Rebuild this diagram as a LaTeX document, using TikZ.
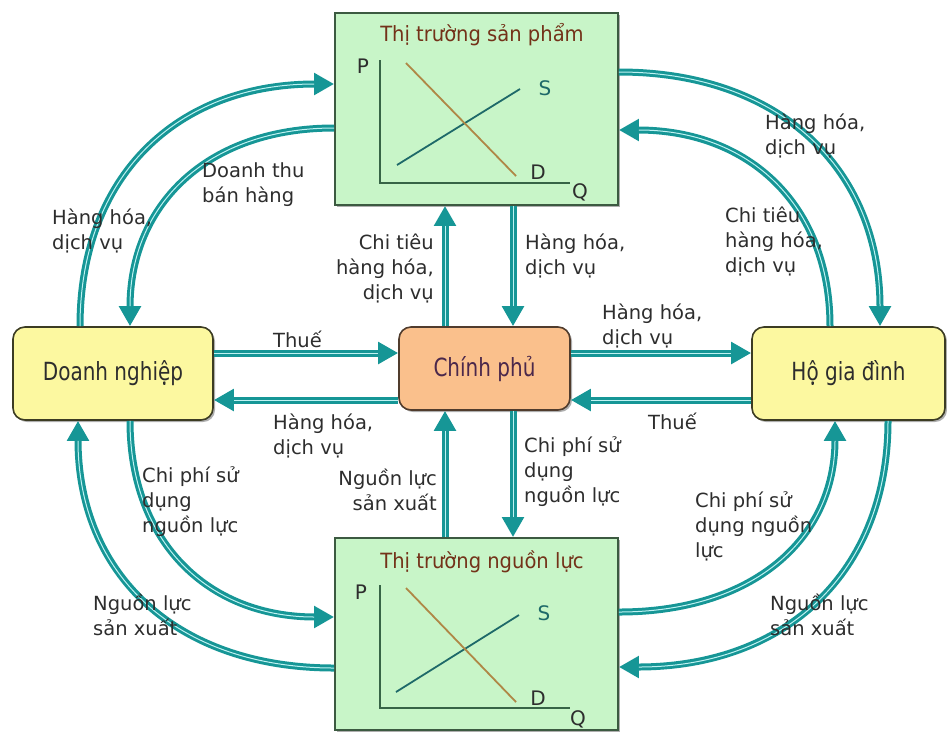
\documentclass[tikz,border=0pt]{standalone}
\usepackage{fontspec}
\setmainfont{DejaVu Sans}
\newfontfamily\boxfont[FakeStretch=0.8]{DejaVu Sans}
\newfontfamily\titlefont[FakeStretch=0.93]{DejaVu Sans}
\usetikzlibrary{arrows.meta,calc,shadows}

\definecolor{flowc}{RGB}{22,150,150}
\definecolor{flowl}{RGB}{190,242,242}
\definecolor{mktfill}{RGB}{200,245,200}
\definecolor{mktdraw}{RGB}{60,90,65}
\definecolor{firmfill}{RGB}{252,248,160}
\definecolor{firmdraw}{RGB}{60,60,35}
\definecolor{govfill}{RGB}{250,192,140}
\definecolor{govdraw}{RGB}{80,60,45}
\definecolor{govtext}{RGB}{75,40,75}
\definecolor{titlec}{RGB}{115,50,25}
\definecolor{axisc}{RGB}{55,100,70}
\definecolor{supc}{RGB}{30,105,105}
\definecolor{demc}{RGB}{175,135,70}
\definecolor{lblc}{RGB}{45,45,45}

\tikzset{
  boxshadow/.style={drop shadow={shadow xshift=2pt, shadow yshift=-2pt, opacity=0.45, fill=black!70}},
  market/.style={draw=mktdraw, line width=1.8pt, fill=mktfill, inner sep=0pt, boxshadow},
  agent/.style={draw=firmdraw, line width=1.6pt, fill=firmfill, rounded corners=12pt, boxshadow,
    inner sep=0pt, font=\boxfont\fontsize{25}{28}\selectfont, text=lblc},
  govbox/.style={draw=govdraw, line width=1.6pt, fill=govfill, rounded corners=12pt, boxshadow,
    inner sep=0pt, font=\boxfont\fontsize{25}{28}\selectfont, text=govtext},
  mkttitle/.style={font=\titlefont\fontsize{21}{24}\selectfont, text=titlec, inner sep=0pt},
  axislbl/.style={font=\fontsize{20}{22}\selectfont, text=lblc, inner sep=0pt},
  lbl/.style={font=\fontsize{19.5}{25}\selectfont, text=lblc, inner sep=0pt, align=left, anchor=base west},
  lblr/.style={font=\fontsize{19.5}{25}\selectfont, text=lblc, inner sep=0pt, align=right, anchor=base east},
  flow/.style={draw=flowc, line width=7pt, -{Triangle[length=20pt,width=21pt]},
    postaction={draw=flowl, line width=1pt, -, shorten >=20pt}},
  axisline/.style={draw=axisc, line width=1.8pt},
}

\begin{document}
\begin{tikzpicture}[x=1pt,y=-1pt]
\useasboundingbox (0,0) rectangle (947,732);

% ---- markets ----
\node[market, minimum width=283pt, minimum height=192pt] (tp) at (476.5,109) {};
\node[market, minimum width=283pt, minimum height=192pt] (bt) at (476.5,634) {};

% ---- agents ----
\node[agent, minimum width=200pt, minimum height=93pt] (dn) at (113,373.5) {Doanh nghiệp};
\node[govbox, minimum width=171pt, minimum height=83pt] (cp) at (484.5,368.5) {Chính phủ};
\node[agent, minimum width=193pt, minimum height=93pt] (hg) at (848.5,373.5) {Hộ gia đình};

% ---- product market chart ----
\node[mkttitle] (tpt) at (482,35) {Thị trường sản phẩm};
\draw[axisline] (380,60) -- (380,183) -- (570,183);
\draw[draw=supc, line width=1.8pt] (397,165) -- (520,89);
\draw[draw=demc, line width=1.8pt] (406,63) -- (516,176);
\node[axislbl] (tpP) at (363,66) {P};
\node[axislbl, text=supc] (tpS) at (545,88) {S};
\node[axislbl] (tpD) at (538,172) {D};
\node[axislbl] (tpQ) at (580,192) {Q};

% ---- resource market chart ----
\node[mkttitle] (btt) at (482,562) {Thị trường nguồn lực};
\draw[axisline] (380,585) -- (380,708) -- (570,708);
\draw[draw=supc, line width=1.8pt] (396,692) -- (519,615);
\draw[draw=demc, line width=1.8pt] (406,588) -- (516,702);
\node[axislbl] (btP) at (361,592) {P};
\node[axislbl, text=supc] (btS) at (544,613) {S};
\node[axislbl] (btD) at (538,698) {D};
\node[axislbl] (btQ) at (578,719) {Q};

% ---- straight flows around the government ----
\coordinate (rA) at (0,353);
\coordinate (rB) at (0,400);
\coordinate (cA) at (445,0);
\coordinate (cB) at (513,0);
\draw[flow] (dn.east |- rA) -- (cp.west |- rA);
\draw[flow] (cp.west |- rB) -- (dn.east |- rB);
\draw[flow] (cp.east |- rA) -- (hg.west |- rA);
\draw[flow] (hg.west |- rB) -- (cp.east |- rB);
\draw[flow] (cp.north -| cA) -- (tp.south -| cA);
\draw[flow] (tp.south -| cB) -- (cp.north -| cB);
\draw[flow] (bt.north -| cA) -- (cp.south -| cA);
\draw[flow] (cp.south -| cB) -- (bt.north -| cB);

% ---- curved flows ----
\draw[flow] ([xshift=-33pt]dn.north) .. controls (80,176) and (177,84) .. ([yshift=25pt]tp.west);
\draw[flow] ([yshift=-19pt]tp.west) .. controls (208,128) and (130,204) .. ([xshift=17pt]dn.north);
\draw[flow] ([yshift=37pt]tp.east) .. controls (780,72) and (880,169) .. ([xshift=31.5pt]hg.north);
\draw[flow] ([xshift=-18.5pt]hg.north) .. controls (830,205) and (749,130) .. ([yshift=-21pt]tp.east);
\draw[flow] ([xshift=17pt]dn.south) .. controls (130,542) and (208,617) .. ([yshift=17pt]bt.west);
\draw[flow] ([yshift=-34pt]bt.west) .. controls (176,668) and (78,574) .. ([xshift=-35pt]dn.south);
\draw[flow] ([yshift=22pt]bt.east) .. controls (753,612) and (835,539) .. ([xshift=-13.5pt]hg.south);
\draw[flow] ([xshift=39.5pt]hg.south) .. controls (888,573) and (785,667) .. ([yshift=-33pt]bt.east);

% ---- flow labels (anchored at the baseline of the last line) ----
\node[lbl] (l1) at (202,202) {Doanh thu\\bán hàng};
\node[lbl] (l2) at (52,249) {Hàng hóa,\\dịch vụ};
\node[lbl] (l3) at (765,154) {Hàng hóa,\\dịch vụ};
\node[lbl] (l4) at (725,272) {Chi tiêu\\hàng hóa,\\dịch vụ};
\node[lblr] (l5) at (434,299) {Chi tiêu\\hàng hóa,\\dịch vụ};
\node[lbl] (l6) at (525,274) {Hàng hóa,\\dịch vụ};
\node[lbl] (l7) at (602,344) {Hàng hóa,\\dịch vụ};
\node[lbl] (l8) at (273,347) {Thuế};
\node[lbl] (l9) at (273,454) {Hàng hóa,\\dịch vụ};
\node[lbl] (l10) at (648,429) {Thuế};
\node[lbl] (l11) at (524,502) {Chi phí sử\\dụng\\nguồn lực};
\node[lblr] (l12) at (437,510) {Nguồn lực\\sản xuất};
\node[lbl] (l13) at (142,532) {Chi phí sử\\dụng\\nguồn lực};
\node[lbl] (l14) at (695,557) {Chi phí sử\\dụng nguồn\\lực};
\node[lbl] (l15) at (770,635) {Nguồn lực\\sản xuất};
\node[lbl] (l16) at (93,635) {Nguồn lực\\sản xuất};
\end{tikzpicture}
\end{document}
